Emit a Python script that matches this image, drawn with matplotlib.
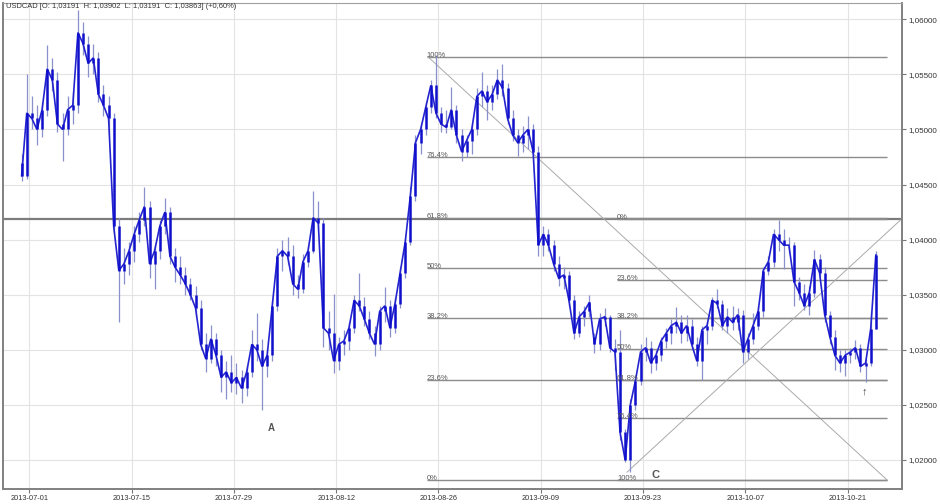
import matplotlib
matplotlib.use("Agg")
import matplotlib.pyplot as plt
from matplotlib.ticker import FuncFormatter
import numpy as np

# USDCAD, two bars per trading day, first day is Fri 2013-06-28 (day -1)
first_day = -1
bars_per_day = 2

opens = [
    1.0470, 1.0458,
    1.0515, 1.0510, 1.0500, 1.0518, 1.0555, 1.0545, 1.0505, 1.0500, 1.0518, 1.0522,
    1.0588, 1.0578, 1.0560, 1.0565, 1.0532, 1.0522, 1.0510, 1.0412, 1.0372, 1.0378,
    1.0390, 1.0405, 1.0418, 1.0430, 1.0378, 1.0390, 1.0412, 1.0425, 1.0385, 1.0375,
    1.0368, 1.0360, 1.0350, 1.0338, 1.0305, 1.0292, 1.0310, 1.0295, 1.0275, 1.0280,
    1.0270, 1.0275, 1.0265, 1.0280, 1.0305, 1.0300, 1.0285, 1.0295, 1.0340, 1.0385,
    1.0390, 1.0385, 1.0360, 1.0355, 1.0380, 1.0390, 1.0420, 1.0415, 1.0320, 1.0315,
    1.0290, 1.0305, 1.0308, 1.0320, 1.0345, 1.0340, 1.0328, 1.0315, 1.0305, 1.0335,
    1.0340, 1.0320, 1.0342, 1.0370, 1.0398, 1.0440, 1.0488, 1.0500, 1.0520, 1.0540,
    1.0515, 1.0505, 1.0502, 1.0518, 1.0495, 1.0480, 1.0490, 1.0500, 1.0530, 1.0535,
    1.0525, 1.0532, 1.0545, 1.0538, 1.0510, 1.0495, 1.0488, 1.0495, 1.0500, 1.0480,
    1.0395, 1.0405, 1.0395, 1.0378, 1.0365, 1.0368, 1.0345, 1.0315, 1.0330, 1.0335,
    1.0312, 1.0305, 1.0328, 1.0330, 1.0302, 1.0298, 1.0225, 1.0200, 1.0250, 1.0272,
    1.0298, 1.0302, 1.0288, 1.0295, 1.0308, 1.0315, 1.0322, 1.0325, 1.0315, 1.0322,
    1.0305, 1.0290, 1.0318, 1.0322, 1.0345, 1.0342, 1.0322, 1.0330, 1.0325, 1.0332,
    1.0298, 1.0310, 1.0322, 1.0335, 1.0372, 1.0380, 1.0405, 1.0400, 1.0395, 1.0395,
    1.0362, 1.0352, 1.0340, 1.0352, 1.0382, 1.0370, 1.0332, 1.0312, 1.0295, 1.0288,
    1.0295, 1.0298, 1.0302, 1.0285, 1.0288, 1.0319,
]
highs = [
    1.0478, 1.0550,
    1.0530, 1.0522, 1.0525, 1.0577, 1.0565, 1.0552, 1.0515, 1.0530, 1.0535, 1.0608,
    1.0598, 1.0585, 1.0578, 1.0570, 1.0540, 1.0530, 1.0515, 1.0420, 1.0392, 1.0398,
    1.0412, 1.0425, 1.0448, 1.0435, 1.0395, 1.0418, 1.0438, 1.0430, 1.0392, 1.0385,
    1.0375, 1.0365, 1.0358, 1.0345, 1.0315, 1.0323, 1.0315, 1.0300, 1.0290, 1.0295,
    1.0288, 1.0282, 1.0285, 1.0318, 1.0333, 1.0310, 1.0300, 1.0345, 1.0392, 1.0400,
    1.0402, 1.0395, 1.0368, 1.0387, 1.0395, 1.0444, 1.0435, 1.0420, 1.0335, 1.0351,
    1.0312, 1.0318, 1.0325, 1.0350, 1.0370, 1.0348, 1.0335, 1.0322, 1.0340, 1.0357,
    1.0345, 1.0348, 1.0375, 1.0402, 1.0448, 1.0495, 1.0505, 1.0525, 1.0545, 1.0568,
    1.0520, 1.0518, 1.0539, 1.0522, 1.0500, 1.0495, 1.0505, 1.0538, 1.0552, 1.0540,
    1.0540, 1.0555, 1.0559, 1.0542, 1.0518, 1.0500, 1.0503, 1.0512, 1.0505, 1.0485,
    1.0412, 1.0410, 1.0400, 1.0385, 1.0375, 1.0372, 1.0350, 1.0335, 1.0340, 1.0350,
    1.0315, 1.0333, 1.0338, 1.0332, 1.0310, 1.0318, 1.0228, 1.0255, 1.0275, 1.0305,
    1.0312, 1.0308, 1.0300, 1.0312, 1.0320, 1.0328, 1.0339, 1.0332, 1.0332, 1.0328,
    1.0312, 1.0322, 1.0325, 1.0348, 1.0355, 1.0345, 1.0338, 1.0340, 1.0338, 1.0336,
    1.0315, 1.0333, 1.0340, 1.0375, 1.0385, 1.0410, 1.0418, 1.0410, 1.0402, 1.0398,
    1.0366, 1.0360, 1.0358, 1.0391, 1.0387, 1.0375, 1.0335, 1.0318, 1.0300, 1.0300,
    1.0302, 1.0309, 1.0305, 1.0292, 1.0335, 1.0390,
]
lows = [
    1.0453, 1.0455,
    1.0500, 1.0486, 1.0493, 1.0512, 1.0535, 1.0498, 1.0471, 1.0495, 1.0505, 1.0515,
    1.0568, 1.0548, 1.0550, 1.0525, 1.0512, 1.0495, 1.0405, 1.0325, 1.0360, 1.0368,
    1.0380, 1.0398, 1.0412, 1.0365, 1.0355, 1.0382, 1.0405, 1.0378, 1.0362, 1.0360,
    1.0350, 1.0345, 1.0330, 1.0300, 1.0280, 1.0288, 1.0285, 1.0262, 1.0255, 1.0262,
    1.0260, 1.0252, 1.0258, 1.0275, 1.0290, 1.0245, 1.0275, 1.0290, 1.0335, 1.0372,
    1.0378, 1.0350, 1.0347, 1.0352, 1.0375, 1.0388, 1.0410, 1.0303, 1.0300, 1.0279,
    1.0282, 1.0295, 1.0300, 1.0315, 1.0335, 1.0322, 1.0310, 1.0294, 1.0300, 1.0325,
    1.0312, 1.0315, 1.0338, 1.0365, 1.0395, 1.0435, 1.0478, 1.0495, 1.0515, 1.0510,
    1.0498, 1.0497, 1.0500, 1.0488, 1.0471, 1.0475, 1.0478, 1.0495, 1.0520, 1.0509,
    1.0518, 1.0528, 1.0530, 1.0505, 1.0490, 1.0476, 1.0480, 1.0482, 1.0478, 1.0385,
    1.0385, 1.0390, 1.0372, 1.0358, 1.0355, 1.0340, 1.0310, 1.0312, 1.0322, 1.0330,
    1.0297, 1.0300, 1.0322, 1.0298, 1.0282, 1.0218, 1.0198, 1.0189, 1.0245, 1.0268,
    1.0290, 1.0279, 1.0282, 1.0290, 1.0302, 1.0305, 1.0315, 1.0306, 1.0308, 1.0300,
    1.0285, 1.0273, 1.0305, 1.0318, 1.0338, 1.0318, 1.0315, 1.0318, 1.0318, 1.0288,
    1.0292, 1.0305, 1.0318, 1.0330, 1.0368, 1.0375, 1.0390, 1.0373, 1.0388, 1.0340,
    1.0345, 1.0336, 1.0332, 1.0348, 1.0365, 1.0325, 1.0305, 1.0282, 1.0280, 1.0276,
    1.0288, 1.0292, 1.0280, 1.0271, 1.0285, 1.0319,
]
closes = [
    1.0458, 1.0515,
    1.0510, 1.0500, 1.0518, 1.0555, 1.0545, 1.0505, 1.0500, 1.0518, 1.0522, 1.0588,
    1.0578, 1.0560, 1.0565, 1.0532, 1.0522, 1.0510, 1.0412, 1.0372, 1.0378, 1.0390,
    1.0405, 1.0418, 1.0430, 1.0378, 1.0390, 1.0412, 1.0425, 1.0385, 1.0375, 1.0368,
    1.0360, 1.0350, 1.0338, 1.0305, 1.0292, 1.0310, 1.0295, 1.0275, 1.0280, 1.0270,
    1.0275, 1.0265, 1.0280, 1.0305, 1.0300, 1.0285, 1.0295, 1.0340, 1.0385, 1.0390,
    1.0385, 1.0360, 1.0355, 1.0380, 1.0390, 1.0420, 1.0415, 1.0320, 1.0315, 1.0290,
    1.0305, 1.0308, 1.0320, 1.0345, 1.0340, 1.0328, 1.0315, 1.0305, 1.0335, 1.0340,
    1.0320, 1.0342, 1.0370, 1.0398, 1.0440, 1.0488, 1.0500, 1.0520, 1.0540, 1.0515,
    1.0505, 1.0502, 1.0518, 1.0495, 1.0480, 1.0490, 1.0500, 1.0530, 1.0535, 1.0525,
    1.0532, 1.0545, 1.0538, 1.0510, 1.0495, 1.0488, 1.0495, 1.0500, 1.0480, 1.0395,
    1.0405, 1.0395, 1.0378, 1.0365, 1.0368, 1.0345, 1.0315, 1.0330, 1.0335, 1.0343,
    1.0305, 1.0328, 1.0330, 1.0302, 1.0298, 1.0225, 1.0200, 1.0250, 1.0272, 1.0298,
    1.0302, 1.0288, 1.0295, 1.0308, 1.0315, 1.0322, 1.0325, 1.0315, 1.0322, 1.0305,
    1.0290, 1.0318, 1.0322, 1.0345, 1.0342, 1.0322, 1.0330, 1.0325, 1.0332, 1.0298,
    1.0310, 1.0322, 1.0335, 1.0372, 1.0380, 1.0405, 1.0400, 1.0395, 1.0395, 1.0362,
    1.0352, 1.0340, 1.0352, 1.0382, 1.0370, 1.0332, 1.0312, 1.0295, 1.0288, 1.0295,
    1.0298, 1.0302, 1.0285, 1.0288, 1.0319, 1.0386,
]

# x ticks: trading day index -> date label
tick_days = [0, 10, 20, 30, 40, 50, 60, 70, 80]
tick_labels = ["2013-07-01", "2013-07-15", "2013-07-29", "2013-08-12", "2013-08-26",
               "2013-09-09", "2013-09-23", "2013-10-07", "2013-10-21"]
price_ticks = [1.020, 1.025, 1.030, 1.035, 1.040, 1.045, 1.050, 1.055, 1.060]

# fibonacci drawings (day, price)
fib_ratios = [0.0, 0.236, 0.382, 0.5, 0.618, 0.764, 1.0]
fib_labels = ["0%", "23.6%", "38.2%", "50%", "61.8%", "76.4%", "100%"]
left_fib_start = (38.97, 1.0566)   # swing high
left_fib_end = (83.84, 1.0182)
right_fib_start = (58.43, 1.0189)  # swing low
right_fib_end = (85.3, 1.0419)
right_fib_top = 1.0419
right_fib_bottom = 1.0182
left_label_day = 38.87
right_label_day = 57.45
fib_end_day = 83.84
hline_price = 1.0419

notes = [("A", 23.65, 1.0229, 7, '#555555'), ("C", 61.2, 1.0186, 8, '#555555'),
         ("\u2191", 81.6, 1.0262, 8, '#444444')]
title = "USDCAD [O: 1,03191  H: 1,03902  L: 1,03191  C: 1,03863] (+0,60%)"

assert len(opens) == len(highs) == len(lows) == len(closes)

plt.rcParams['font.family'] = ['Liberation Sans', 'DejaVu Sans']

fig = plt.figure(figsize=(9.4, 5.04), dpi=100)
ax = fig.add_axes([3 / 940, 1 - 489 / 504, 899 / 940, 486 / 504])

xpos = first_day + (np.arange(len(closes)) + 0.5) / bars_per_day

# wicks, close trace, bodies
ax.vlines(xpos, lows, highs, color='#8a90cc', lw=0.9, zorder=3)
ax.plot(xpos, closes, color='#2424d0', lw=1.2, zorder=4, solid_joinstyle='miter')
ax.vlines(xpos, opens, closes, color='#1010cc', lw=1.8, zorder=4)

# full width horizontal line
ax.axhline(hline_price, color='#7c7c7c', lw=1.6, zorder=2)

# left fib (0% at the low, 100% at the high)
hi, lo = left_fib_start[1], left_fib_end[1]
for r, lab in zip(fib_ratios, fib_labels):
    lvl = lo + r * (hi - lo)
    ax.hlines(lvl, left_label_day, fib_end_day, color='#8c8c8c', lw=1.0, zorder=2)
    ax.text(left_label_day, lvl, lab, fontsize=5.5, color='#5a5a5a',
            ha='left', va='baseline', zorder=5)
ax.plot([left_fib_start[0], left_fib_end[0]], [left_fib_start[1], left_fib_end[1]],
        color='#aaaaaa', lw=0.7, zorder=2)

# right fib (0% at the high, 100% at the low)
for r, lab in zip(fib_ratios, fib_labels):
    lvl = right_fib_top - r * (right_fib_top - right_fib_bottom)
    ax.hlines(lvl, right_label_day, fib_end_day, color='#8c8c8c', lw=1.0, zorder=2)
    ax.text(right_label_day, lvl, lab, fontsize=5.5, color='#5a5a5a',
            ha='left', va='baseline', zorder=5)
ax.plot([right_fib_start[0], right_fib_end[0]], [right_fib_start[1], right_fib_end[1]],
        color='#aaaaaa', lw=0.7, zorder=2)

for txt, d, p, fs, col in notes:
    ax.text(d, p, txt, fontsize=fs, color=col, fontweight='bold',
            ha='center', va='center', zorder=5)

ax.set_xlim(-2.571, 85.31)
ax.set_ylim(1.01737, 1.06148)

ax.set_xticks(tick_days)
ax.set_xticklabels(tick_labels)
ax.set_yticks(price_ticks)
ax.yaxis.set_major_formatter(FuncFormatter(lambda v, p: f"{v:.5f}".replace('.', ',')))
ax.yaxis.tick_right()
ax.tick_params(axis='x', length=3, width=0.8, color='#777777', labelsize=5.3,
               labelcolor='#333333', pad=1.5)
ax.tick_params(axis='y', length=3, width=0.8, color='#777777', labelsize=5.8,
               labelcolor='#333333', pad=1.5)
ax.grid(True, color='#e3e3e3', lw=0.8, zorder=0)
ax.set_axisbelow(True)

for side in ['left', 'bottom', 'right']:
    ax.spines[side].set_color('#808080')
    ax.spines[side].set_linewidth(1.4)
ax.spines['top'].set_color('#a0a0a0')
ax.spines['top'].set_linewidth(0.8)

fig.text(6 / 940, 1 - 6.3 / 504, title, fontsize=5.4, color='#333333',
         ha='left', va='center')

fig.savefig('out.png', dpi=100, facecolor='white')
